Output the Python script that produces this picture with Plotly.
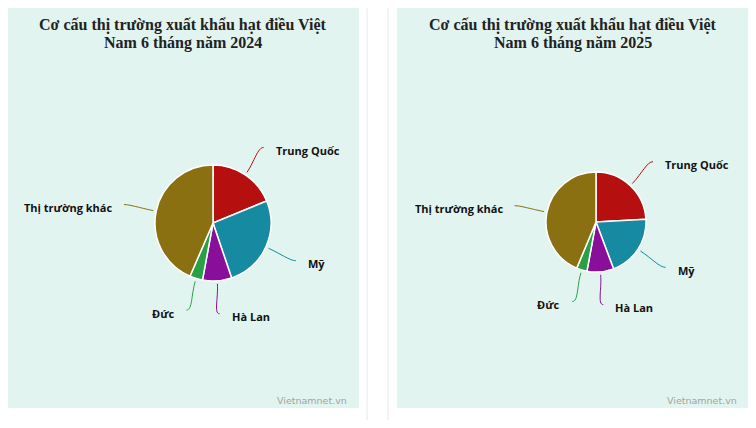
import math
import plotly.graph_objects as go

# page is rendered with an 8px body margin; all pixel positions below are page pixels
OFF = 8
W, H = 740, 412

# ---- data ----
markets = ["Trung Quốc", "Mỹ", "Hà Lan", "Đức", "Thị trường khác"]
share_2024 = [18.8, 26.0, 8.1, 3.6, 43.5]
share_2025 = [24.1, 20.2, 8.6, 3.4, 43.7]
colors = ["#b50f10", "#168aa1", "#890f9b", "#28a044", "#8b7012"]
titles = ["Cơ cấu thị trường xuất khẩu hạt điều Việt", "Nam 6 tháng năm 2024",
          "Cơ cấu thị trường xuất khẩu hạt điều Việt", "Nam 6 tháng năm 2025"]
source = "Vietnamnet.vn"

# ---- layout helpers (page pixels) ----
panels = [dict(x0=7, x1=359, cx=213, cy=223, r=58, values=share_2024, t=titles[0:2]),
          dict(x0=397, x1=749, cx=596, cy=222, r=50, values=share_2025, t=titles[2:4])]


def px(x):
    return (x - OFF) / W


def py(y):
    return 1 - (y - OFF) / H


fig = go.Figure()
shapes = []
annotations = []

for p in panels:
    shapes.append(dict(type="rect", xref="paper", yref="paper", x0=px(p["x0"]), x1=px(p["x1"]),
                       y0=py(408), y1=py(8), fillcolor="#e2f4f0", line=dict(width=0), layer="below"))
    cx, cy, r = p["cx"], p["cy"], p["r"]
    fig.add_trace(go.Pie(labels=markets, values=p["values"], sort=False, direction="clockwise",
                         rotation=0, textinfo="none", hoverinfo="label+percent",
                         marker=dict(colors=colors, line=dict(color="white", width=1.5)),
                         domain=dict(x=[px(cx - r), px(cx + r)], y=[py(cy + r), py(cy - r)]),
                         showlegend=False))
    total = sum(p["values"])
    cum = 0
    for lab, v, col in zip(markets, p["values"], colors):
        a0 = cum / total * 360
        cum += v
        a1 = cum / total * 360
        mid = math.radians((a0 + a1) / 2)
        ux, uy = math.sin(mid), -math.cos(mid)
        sgn = 1 if ux >= 0 else -1
        S = (cx + (r + 3) * ux, cy + (r + 3) * uy)
        C1 = (cx + (r + 17) * ux, cy + (r + 17) * uy)
        E = (cx + (r + 33) * ux, cy + (r + 33) * uy)
        C2 = (E[0] - sgn * 6, E[1])
        path = "M {} {} C {} {}, {} {}, {} {}".format(
            px(S[0]), py(S[1]), px(C1[0]), py(C1[1]), px(C2[0]), py(C2[1]), px(E[0]), py(E[1]))
        shapes.append(dict(type="path", xref="paper", yref="paper", path=path,
                           line=dict(color=col, width=1)))
        annotations.append(dict(xref="paper", yref="paper", x=px(E[0] + sgn * 10), y=py(E[1] + 3),
                                text=lab, showarrow=False, xanchor="left" if sgn > 0 else "right",
                                yanchor="middle",
                                font=dict(family="Open Sans", size=11, color="#111", weight=700)))
    mx = (p["x0"] + p["x1"]) / 2
    annotations.append(dict(xref="paper", yref="paper", x=px(mx), y=py(25), text="<b>" + p["t"][0] + "</b>",
                            showarrow=False, xanchor="center", yanchor="middle",
                            font=dict(family="Liberation Serif", size=16, color="#222")))
    annotations.append(dict(xref="paper", yref="paper", x=px(mx), y=py(43), text="<b>" + p["t"][1] + "</b>",
                            showarrow=False, xanchor="center", yanchor="middle",
                            font=dict(family="Liberation Serif", size=16, color="#222")))
    annotations.append(dict(xref="paper", yref="paper", x=px(p["x1"] - 10), y=py(400), text=source,
                            showarrow=False, xanchor="right", yanchor="middle",
                            font=dict(family="DejaVu Sans", size=9.5, color="#a3a3a3")))

for xl in (367, 388):
    shapes.append(dict(type="line", xref="paper", yref="paper", x0=px(xl), x1=px(xl), y0=0, y1=1,
                       line=dict(color="#e8e8e8", width=1)))

fig.update_layout(width=W, height=H, margin=dict(l=0, r=0, t=0, b=0), paper_bgcolor="white",
                  plot_bgcolor="white", shapes=shapes, annotations=annotations)
fig.write_html("out.html")
